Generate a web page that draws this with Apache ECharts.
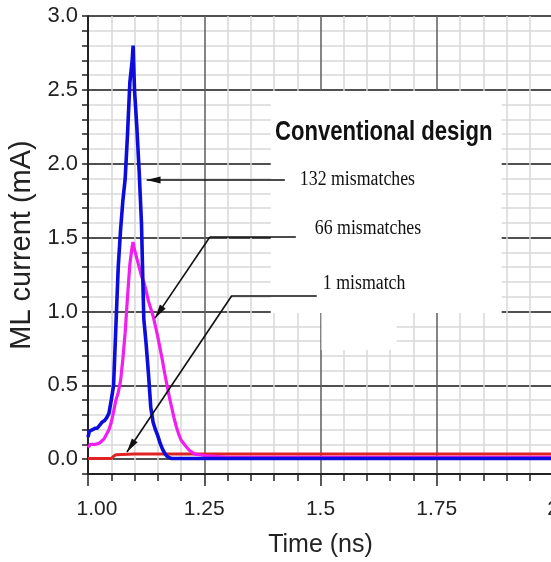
<!DOCTYPE html>
<html><head><meta charset="utf-8">
<script src="https://cdn.jsdelivr.net/npm/echarts@6/dist/echarts.min.js"></script>
<style>html,body{margin:0;padding:0;background:#fff}#c{width:551px;height:562px}</style>
</head><body><div id="c"></div>
<script>
// ---- data ----
const xTickLabels = ['1.00', '1.25', '1.5', '1.75', '2'];
const yTickLabels = ['0.0', '0.5', '1.0', '1.5', '2.0', '2.5', '3.0'];

// 132 mismatches (blue)
const blueT = [1.000,1.003,1.010,1.015,1.020,1.025,1.030,1.035,1.040,1.045,1.050,1.055,1.060,1.065,1.070,1.075,1.080,1.085,1.090,1.095,1.097,1.100,1.105,1.110,1.115,1.118,1.120,1.125,1.130,1.135,1.140,1.145,1.150,1.155,1.160,1.165,1.170,1.175,1.180,1.250,1.500,1.750,2.000];
const blueI = [0.15,0.19,0.20,0.21,0.21,0.23,0.25,0.26,0.28,0.31,0.40,0.50,0.90,1.30,1.55,1.75,1.90,2.20,2.55,2.70,2.80,2.50,2.25,1.95,1.60,1.20,0.95,0.78,0.58,0.35,0.25,0.20,0.16,0.11,0.07,0.04,0.02,0.01,0.005,0.005,0.005,0.005,0.005];

// 66 mismatches (magenta)
const magT = [1.000,1.005,1.015,1.025,1.035,1.045,1.050,1.055,1.060,1.065,1.070,1.075,1.080,1.085,1.090,1.095,1.097,1.100,1.105,1.110,1.115,1.120,1.125,1.130,1.135,1.140,1.145,1.150,1.155,1.160,1.165,1.170,1.175,1.180,1.185,1.190,1.195,1.200,1.205,1.210,1.215,1.220,1.225,1.230,1.240,1.250,1.300,2.000];
const magI = [0.08,0.10,0.10,0.11,0.14,0.20,0.25,0.32,0.40,0.45,0.53,0.68,0.86,1.10,1.32,1.44,1.47,1.42,1.36,1.30,1.24,1.20,1.14,1.07,1.02,0.97,0.90,0.83,0.75,0.67,0.58,0.50,0.42,0.35,0.28,0.22,0.17,0.13,0.11,0.09,0.07,0.055,0.045,0.035,0.03,0.025,0.012,0.012];

// 1 mismatch (red)
const redT = [1.000,1.050,1.055,1.060,1.100,1.150,1.170,1.175,2.000];
const redI = [0.005,0.005,0.02,0.03,0.035,0.035,0.035,0.035,0.035];

// annotation geometry (data coordinates)
const leader132 = [[1.4234, 1.890], [1.126, 1.890]];
const leader66 = [[1.447, 1.504], [1.262, 1.504], [1.144, 0.955]];
const leader1 = [[1.492, 1.108], [1.3095, 1.108], [1.0838, 0.049]];
const whiteBoxes = [[[1.393, 2.492], [1.8897, 0.99]], [[1.502, 0.99], [1.664, 0.739]]];
const notes = [
  {text: 'Conventional design', at: [1.402, 2.211], font: 'bold 28px "Liberation Sans", Arial, sans-serif', sx: 0.79},
  {text: '132 mismatches', at: [1.4556, 1.890], font: '20px "Liberation Serif", "Times New Roman", serif', sx: 0.89},
  {text: '66 mismatches', at: [1.4878, 1.558], font: '20px "Liberation Serif", "Times New Roman", serif', sx: 0.89},
  {text: '1 mismatch', at: [1.505, 1.186], font: '20px "Liberation Serif", "Times New Roman", serif', sx: 0.89}
];

// ---- build ----
const zip = (a, b) => a.map((v, i) => [v, b[i]]);
const arrowSym = 'path://M5,-24 L5,-24 M5,0 L10,24 L0,24 Z';
function segs(pts) {
  const out = [];
  for (let i = 0; i < pts.length - 1; i++) {
    const last = i === pts.length - 2;
    out.push([
      {coord: pts[i], symbol: 'none'},
      last ? {coord: pts[i + 1], symbol: arrowSym, symbolSize: [7, 28]} : {coord: pts[i + 1], symbol: 'none'}
    ]);
  }
  return out;
}

const FONT = '"Liberation Sans", Arial, sans-serif';
const chart = echarts.init(document.getElementById('c'), null, {renderer: 'canvas'});
chart.setOption({
  animation: false,
  backgroundColor: '#ffffff',
  textStyle: {fontFamily: FONT},
  grid: {left: 88, width: 465, top: 16, height: 458, containLabel: false, outerBoundsMode: 'none'},
  xAxis: {
    type: 'value', min: 1, max: 2, interval: 0.25,
    axisLine: {show: true, onZero: false, lineStyle: {color: '#222', width: 2}},
    axisTick: {show: true, length: 12, lineStyle: {color: '#222', width: 1.5}},
    minorTick: {show: true, splitNumber: 5, length: 7, lineStyle: {color: '#222', width: 1.5}},
    splitLine: {show: true, lineStyle: {color: '#5c5c5c', width: 1.5}},
    minorSplitLine: {show: true, lineStyle: {color: '#d8d8d8', width: 1.5}},
    axisLabel: {margin: 25, fontSize: 21, color: '#222', fontFamily: FONT,
      formatter: v => { const i = Math.round((v - 1) / 0.25); return i === 0 ? '{first|' + xTickLabels[0] + '}' : xTickLabels[i]; },
      rich: {first: {fontSize: 21, color: '#222', fontFamily: FONT, padding: [0, 0, 0, 18]}}},
    name: 'Time (ns)', nameLocation: 'middle', nameGap: 59,
    nameTextStyle: {fontSize: 25, color: '#222', fontFamily: FONT}
  },
  yAxis: [{
    type: 'value', min: -0.1, max: 3, interval: 0.1, position: 'left',
    axisLine: {show: true, onZero: false, lineStyle: {color: '#222', width: 2}},
    axisTick: {show: true, interval: 0, length: 6, lineStyle: {color: '#222', width: 1.5}},
    axisLabel: {interval: 0, margin: 10, fontSize: 22, color: '#222', fontFamily: FONT,
      formatter: v => { const k = Math.round(v * 10); return (k >= 0 && k % 5 === 0) ? yTickLabels[k / 5] : ''; }},
    splitLine: {show: true, lineStyle: {color: '#d8d8d8', width: 1.5}},
    name: 'ML current (mA)', nameLocation: 'middle', nameGap: 52,
    nameTextStyle: {fontSize: 29, color: '#222', fontFamily: FONT}
  }, {
    type: 'value', min: -0.1, max: 3, splitNumber: 6, position: 'left',
    axisLine: {show: false}, axisTick: {show: false}, axisLabel: {show: false},
    splitLine: {show: true, lineStyle: {color: '#505050', width: 2}}
  }],
  series: [{
    name: '1 mismatch', type: 'line', data: zip(redT, redI), symbol: 'none', showSymbol: false,
    lineStyle: {color: '#e02424', width: 3}, itemStyle: {color: '#e02424'},
    markArea: {silent: true, itemStyle: {color: '#ffffff', opacity: 1},
      data: whiteBoxes.map(b => [{coord: b[0]}, {coord: b[1]}])}
  }, {
    name: '66 mismatches', type: 'line', data: zip(magT, magI), symbol: 'none', showSymbol: false,
    lineStyle: {color: '#f01ef0', width: 3.2}, itemStyle: {color: '#f01ef0'}
  }, {
    name: '132 mismatches', type: 'line', data: zip(blueT, blueI), symbol: 'none', showSymbol: false,
    lineStyle: {color: '#0c0cdc', width: 3.6}, itemStyle: {color: '#0c0cdc'},
    markLine: {
      silent: true, symbol: ['none', 'none'], label: {show: false},
      lineStyle: {color: '#111', width: 1.6, type: 'solid'},
      emphasis: {disabled: true},
      data: [].concat(segs(leader132), segs(leader66), segs(leader1))
    }
  }]
});

chart.setOption({
  graphic: notes.map(n => {
    const p = chart.convertToPixel({xAxisIndex: 0, yAxisIndex: 0}, n.at);
    return {type: 'text', x: p[0], y: p[1], z: 10, scaleX: n.sx, silent: true,
      style: {text: n.text, font: n.font, fill: '#111', align: 'left', verticalAlign: 'middle'}};
  })
});
</script></body></html>
